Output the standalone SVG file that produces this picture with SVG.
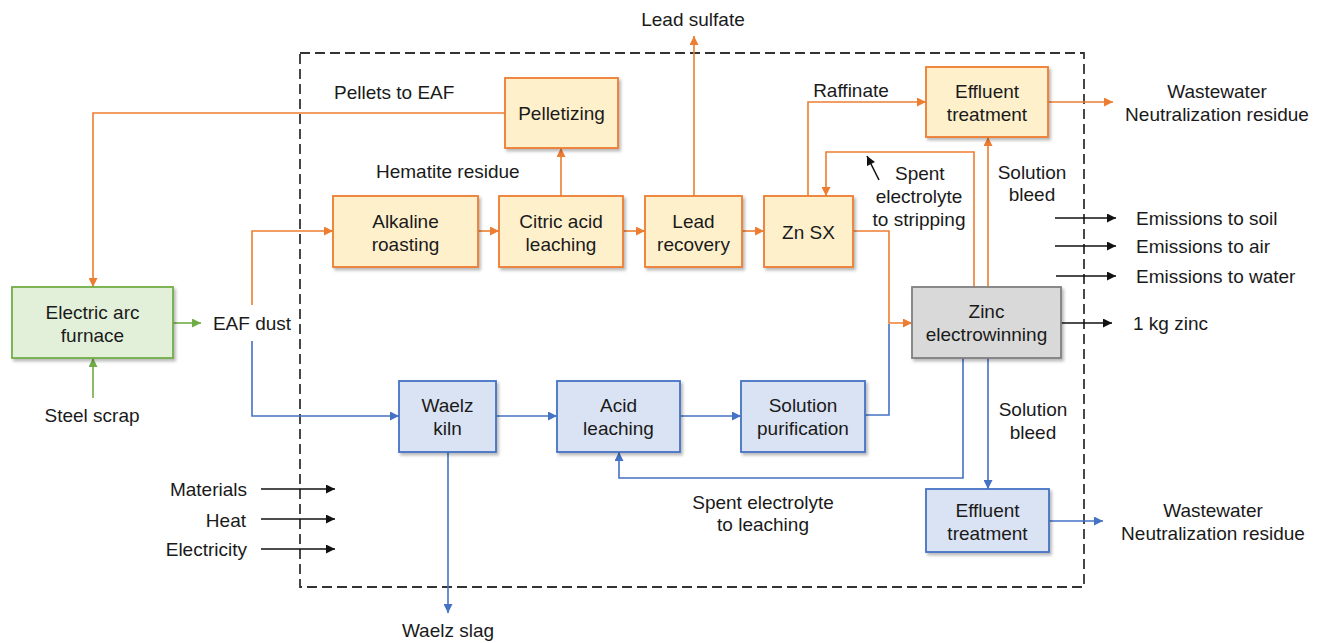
<svg xmlns="http://www.w3.org/2000/svg" width="1324" height="643" viewBox="0 0 1324 643">
<style>
text{font-family:"Liberation Sans",Arial,sans-serif;font-size:19px;fill:#1a1a1a}
.m{text-anchor:middle}
.e{text-anchor:end}
.box{stroke-width:1.8;filter:url(#sh)}
.o{fill:#FFF0CC;stroke:#ED7D31}
.g{fill:#E2F0D9;stroke:#70AD47}
.b{fill:#DAE3F3;stroke:#4472C4}
.k{fill:#D9D9D9;stroke:#7F7F7F}
.lo{fill:none;stroke:#ED7D31;stroke-width:1.6}
.lb{fill:none;stroke:#4472C4;stroke-width:1.6}
.lg{fill:none;stroke:#70AD47;stroke-width:1.6}
.lk{fill:none;stroke:#111;stroke-width:1.6}
</style>
<defs>
<filter id="sh" x="-10%" y="-10%" width="130%" height="130%">
<feDropShadow dx="2" dy="2.5" stdDeviation="1.5" flood-color="#000" flood-opacity="0.28"/>
</filter>
<marker id="ao" viewBox="0 0 10 10" refX="10" refY="5" markerWidth="10" markerHeight="9" markerUnits="userSpaceOnUse" orient="auto"><path d="M0,0L10,5L0,10z" fill="#ED7D31"/></marker>
<marker id="ab" viewBox="0 0 10 10" refX="10" refY="5" markerWidth="10" markerHeight="9" markerUnits="userSpaceOnUse" orient="auto"><path d="M0,0L10,5L0,10z" fill="#4472C4"/></marker>
<marker id="ag" viewBox="0 0 10 10" refX="10" refY="5" markerWidth="10" markerHeight="9" markerUnits="userSpaceOnUse" orient="auto"><path d="M0,0L10,5L0,10z" fill="#70AD47"/></marker>
<marker id="ak" viewBox="0 0 10 10" refX="10" refY="5" markerWidth="10" markerHeight="9" markerUnits="userSpaceOnUse" orient="auto"><path d="M0,0L10,5L0,10z" fill="#111"/></marker>
</defs>
<rect width="1324" height="643" fill="#fff"/>
<rect id="boundary" x="300" y="53" width="784" height="534" fill="none" stroke="#333" stroke-width="1.8" stroke-dasharray="10,5"/>
<g id="connectors">
<path class="lo" d="M505,113H93V287" marker-end="url(#ao)"/>
<path class="lo" d="M252,305V231H333" marker-end="url(#ao)"/>
<path class="lo" d="M478,231H499" marker-end="url(#ao)"/>
<path class="lo" d="M623,231H645" marker-end="url(#ao)"/>
<path class="lo" d="M742,231H764" marker-end="url(#ao)"/>
<path class="lo" d="M561,196V148" marker-end="url(#ao)"/>
<path class="lo" d="M694,196V36" marker-end="url(#ao)"/>
<path class="lo" d="M808,196V102H926" marker-end="url(#ao)"/>
<path class="lo" d="M1048,102H1113" marker-end="url(#ao)"/>
<path class="lo" d="M974,287V152H826V196" marker-end="url(#ao)"/>
<path class="lo" d="M988,287V137" marker-end="url(#ao)"/>
<path class="lo" d="M853,231H889V323H912" marker-end="url(#ao)"/>
<path class="lb" d="M252,341V416H399" marker-end="url(#ab)"/>
<path class="lb" d="M496,416H557" marker-end="url(#ab)"/>
<path class="lb" d="M680,416H741" marker-end="url(#ab)"/>
<path class="lb" d="M865,415H889V324"/>
<path class="lb" d="M448,452V613" marker-end="url(#ab)"/>
<path class="lb" d="M963,358V478H619V452" marker-end="url(#ab)"/>
<path class="lb" d="M988,358V489" marker-end="url(#ab)"/>
<path class="lb" d="M1049,521H1103" marker-end="url(#ab)"/>
<path class="lg" d="M173,323H201" marker-end="url(#ag)"/>
<path class="lg" d="M93,398V358" marker-end="url(#ag)"/>
<path class="lk" d="M1055,218H1116" marker-end="url(#ak)"/>
<path class="lk" d="M1055,246H1116" marker-end="url(#ak)"/>
<path class="lk" d="M1056,276H1116" marker-end="url(#ak)"/>
<path class="lk" d="M1061,323H1112" marker-end="url(#ak)"/>
<path class="lk" d="M261,489H335" marker-end="url(#ak)"/>
<path class="lk" d="M261,519H335" marker-end="url(#ak)"/>
<path class="lk" d="M261,549H335" marker-end="url(#ak)"/>
<path class="lk" d="M879,180L867,156" marker-end="url(#ak)"/>
</g>
<g id="pelletizing"><rect class="box o" x="505" y="78" width="113" height="70"/><text class="m" x="561.5" y="120">Pelletizing</text></g>
<g id="effluent-top"><rect class="box o" x="926" y="67" width="122" height="70"/><text class="m" x="987" y="98">Effluent</text><text class="m" x="987" y="121">treatment</text></g>
<g id="alkaline-roasting"><rect class="box o" x="333" y="196" width="145" height="71"/><text class="m" x="405.5" y="228">Alkaline</text><text class="m" x="405.5" y="251">roasting</text></g>
<g id="citric-acid-leaching"><rect class="box o" x="499" y="196" width="124" height="71"/><text class="m" x="561" y="228">Citric acid</text><text class="m" x="561" y="251">leaching</text></g>
<g id="lead-recovery"><rect class="box o" x="645" y="196" width="97" height="71"/><text class="m" x="693.5" y="228">Lead</text><text class="m" x="693.5" y="251">recovery</text></g>
<g id="zn-sx"><rect class="box o" x="764" y="196" width="89" height="71"/><text class="m" x="808.5" y="239">Zn SX</text></g>
<g id="eaf"><rect class="box g" x="12" y="287" width="161" height="71"/><text class="m" x="92.5" y="319">Electric arc</text><text class="m" x="92.5" y="342">furnace</text></g>
<g id="zinc-electrowinning"><rect class="box k" x="912" y="287" width="149" height="71"/><text class="m" x="986.5" y="318">Zinc</text><text class="m" x="986.5" y="341">electrowinning</text></g>
<g id="waelz-kiln"><rect class="box b" x="399" y="381" width="97" height="71"/><text class="m" x="447.5" y="412">Waelz</text><text class="m" x="447.5" y="435">kiln</text></g>
<g id="acid-leaching"><rect class="box b" x="557" y="381" width="123" height="71"/><text class="m" x="618.5" y="412">Acid</text><text class="m" x="618.5" y="435">leaching</text></g>
<g id="solution-purification"><rect class="box b" x="741" y="381" width="124" height="71"/><text class="m" x="803" y="412">Solution</text><text class="m" x="803" y="435">purification</text></g>
<g id="effluent-bottom"><rect class="box b" x="926" y="489" width="123" height="63"/><text class="m" x="987.5" y="517">Effluent</text><text class="m" x="987.5" y="540">treatment</text></g>
<g id="labels">
<text class="m" x="693" y="26">Lead sulfate</text>
<text x="334" y="99">Pellets to EAF</text>
<text x="376" y="178">Hematite residue</text>
<text class="m" x="851" y="97">Raffinate</text>
<text class="m" x="1217" y="98">Wastewater</text>
<text class="m" x="1217" y="121">Neutralization residue</text>
<text class="m" x="1032" y="179">Solution</text>
<text class="m" x="1032" y="201">bleed</text>
<text x="895" y="180">Spent</text>
<text class="m" x="919" y="203">electrolyte</text>
<text class="m" x="919" y="226">to stripping</text>
<text x="1136" y="225">Emissions to soil</text>
<text x="1136" y="253">Emissions to air</text>
<text x="1136" y="283">Emissions to water</text>
<text x="1133" y="330">1 kg zinc</text>
<text class="m" x="252" y="330">EAF dust</text>
<text class="m" x="92" y="422">Steel scrap</text>
<text class="e" x="247" y="496">Materials</text>
<text class="e" x="246" y="527">Heat</text>
<text class="e" x="247" y="556">Electricity</text>
<text class="m" x="448" y="637">Waelz slag</text>
<text class="m" x="1033" y="416">Solution</text>
<text class="m" x="1033" y="439">bleed</text>
<text class="m" x="763" y="509">Spent electrolyte</text>
<text class="m" x="763" y="531">to leaching</text>
<text class="m" x="1213" y="517">Wastewater</text>
<text class="m" x="1213" y="540">Neutralization residue</text>
</g>
</svg>
